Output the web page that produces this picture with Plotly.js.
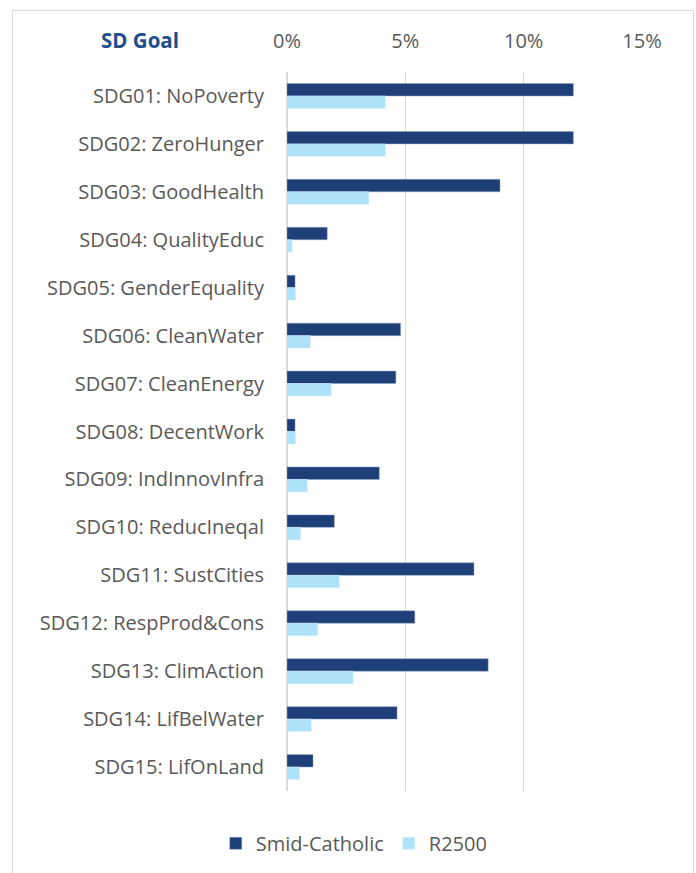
<!DOCTYPE html>
<html><head><meta charset="utf-8">
<script src="https://cdn.plot.ly/plotly-3.0.1.min.js"></script>
<style>html,body{margin:0;padding:0;background:#fff}#wrap{position:relative;width:696px;height:873px}
#frame{position:absolute;left:12px;top:10px;width:680px;height:880px;border:1px solid #d9d9d9;pointer-events:none}</style>
</head><body><div id="wrap"><div id="chart" style="width:696px;height:873px"></div><div id="frame"></div></div>
<script>
const categories = ["SDG01: NoPoverty","SDG02: ZeroHunger","SDG03: GoodHealth","SDG04: QualityEduc","SDG05: GenderEquality","SDG06: CleanWater","SDG07: CleanEnergy","SDG08: DecentWork","SDG09: IndInnovInfra","SDG10: ReducIneqal","SDG11: SustCities","SDG12: RespProd&Cons","SDG13: ClimAction","SDG14: LifBelWater","SDG15: LifOnLand"];
const smidCatholic = [0.121,0.121,0.090,0.017,0.0034,0.048,0.046,0.0034,0.039,0.020,0.079,0.054,0.085,0.0465,0.011];
const r2500 = [0.0416,0.0416,0.0346,0.0022,0.0036,0.0099,0.0187,0.0036,0.0086,0.0058,0.0221,0.0130,0.0280,0.0103,0.0053];
const xTicks = [0,0.05,0.10,0.15];
const seriesNames = ["Smid-Catholic","R2500"];

const font = "'Open Sans', sans-serif";
const traces = [
  {type:'bar', orientation:'h', name:seriesNames[0], y:categories, x:smidCatholic,
   marker:{color:'#1f3f79', line:{color:'#8fa3c4', width:0.5}}},
  {type:'bar', orientation:'h', name:seriesNames[1], y:categories, x:r2500,
   marker:{color:'#aee2fb', line:{color:'#d6f0fd', width:0.5}}}
];
const layout = {
  width:696, height:873,
  margin:{l:287, r:54, t:72, b:82, pad:0},
  paper_bgcolor:'#fff', plot_bgcolor:'#fff',
  font:{family:font, size:20, color:'#595959'},
  barmode:'group', bargap:0.48, bargroupgap:0,
  xaxis:{side:'top', range:[0,0.15], tickvals:xTicks, tickformat:'.0%',
    showgrid:true, gridcolor:'#d9d9d9', gridwidth:1.5, zeroline:true, zerolinecolor:'#d9d9d9', zerolinewidth:1.5,
    showline:false, ticks:'', ticklabelstandoff:19, tickfont:{size:20, color:'#595959'}, fixedrange:true},
  yaxis:{autorange:'reversed', showgrid:false, zeroline:false, showline:false, ticks:'',
    ticklabelstandoff:22, tickfont:{size:20, color:'#595959'}, fixedrange:true},
  showlegend:true,
  legend:{orientation:'h', xref:'container', yref:'container', x:0.509, xanchor:'center', y:0.034, yanchor:'middle',
    font:{size:20, color:'#595959'}, traceorder:'normal', itemwidth:30, tracegroupgap:0},
  annotations:[{text:'<b>SD Goal</b>', xref:'paper', yref:'paper', x:-0.415, y:1, yshift:32, xanchor:'center', yanchor:'middle',
    showarrow:false, font:{size:20.5, color:'#1f4e8c', family:font}}]
};
Plotly.newPlot('chart', traces, layout, {displayModeBar:false, staticPlot:true});
</script></body></html>
